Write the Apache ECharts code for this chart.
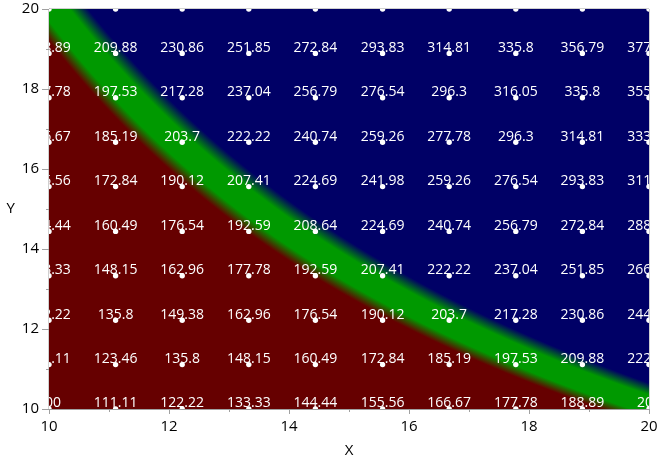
<!DOCTYPE html>
<html>
<head>
<meta charset="utf-8">
<script src="https://cdn.jsdelivr.net/npm/echarts@6/dist/echarts.min.js"></script>
<style>
html,body{margin:0;padding:0;background:#fff;}
#chart{width:666px;height:472px;}
</style>
</head>
<body>
<div id="chart"></div>
<script>
// Grid coordinates (X and Y) of the sampled points
const xValues = [10, 11.11, 12.22, 13.33, 14.44, 15.56, 16.67, 17.78, 18.89, 20];
const yValues = [10, 11.11, 12.22, 13.33, 14.44, 15.56, 16.67, 17.78, 18.89, 20];
// Z values, one row per Y value (bottom to top), columns follow xValues
const zRow0 = [100, 111.11, 122.22, 133.33, 144.44, 155.56, 166.67, 177.78, 188.89, 200];
const zRow1 = [111.11, 123.46, 135.8, 148.15, 160.49, 172.84, 185.19, 197.53, 209.88, 222.22];
const zRow2 = [122.22, 135.8, 149.38, 162.96, 176.54, 190.12, 203.7, 217.28, 230.86, 244.44];
const zRow3 = [133.33, 148.15, 162.96, 177.78, 192.59, 207.41, 222.22, 237.04, 251.85, 266.67];
const zRow4 = [144.44, 160.49, 176.54, 192.59, 208.64, 224.69, 240.74, 256.79, 272.84, 288.89];
const zRow5 = [155.56, 172.84, 190.12, 207.41, 224.69, 241.98, 259.26, 276.54, 293.83, 311.11];
const zRow6 = [166.67, 185.19, 203.7, 222.22, 240.74, 259.26, 277.78, 296.3, 314.81, 333.33];
const zRow7 = [177.78, 197.53, 217.28, 237.04, 256.79, 276.54, 296.3, 316.05, 335.8, 355.56];
const zRow8 = [188.89, 209.88, 230.86, 251.85, 272.84, 293.83, 314.81, 335.8, 356.79, 377.78];
const zRow9 = [200, 222.22, 244.44, 266.67, 288.89, 311.11, 333.33, 355.56, 377.78, 400];
const zRows = [zRow0, zRow1, zRow2, zRow3, zRow4, zRow5, zRow6, zRow7, zRow8, zRow9];
// axis ticks
const xTicks = [10, 12, 14, 16, 18, 20];
const yTicks = [10, 12, 14, 16, 18, 20];

// colour scale (value -> colour)
const scaleValues = [192, 197, 207, 213];
const scaleColors = [[102, 0, 0], [0, 153, 0], [0, 153, 0], [0, 0, 102]];

function colorAt(v) {
  const n = scaleValues.length;
  if (v <= scaleValues[0]) return scaleColors[0];
  if (v >= scaleValues[n - 1]) return scaleColors[n - 1];
  for (let i = 0; i < n - 1; i++) {
    if (v >= scaleValues[i] && v <= scaleValues[i + 1]) {
      const t = (v - scaleValues[i]) / (scaleValues[i + 1] - scaleValues[i]);
      const a = scaleColors[i], b = scaleColors[i + 1];
      return [a[0] + (b[0] - a[0]) * t, a[1] + (b[1] - a[1]) * t, a[2] + (b[2] - a[2]) * t];
    }
  }
  return scaleColors[n - 1];
}
function rgb(c) { return 'rgb(' + Math.round(c[0]) + ',' + Math.round(c[1]) + ',' + Math.round(c[2]) + ')'; }

// one item per band of cells between two neighbouring Y values
const bandData = [];
for (let j = 0; j < yValues.length - 1; j++) {
  bandData.push([xValues[0], yValues[j], xValues[xValues.length - 1], yValues[j + 1], j]);
}
const pointData = [];
for (let j = 0; j < yValues.length; j++) {
  for (let i = 0; i < xValues.length; i++) {
    pointData.push([xValues[i], yValues[j], zRows[j][i]]);
  }
}

const FONT = '"Open Sans", "Noto Sans", sans-serif';
const axisGray = '#a0a0a0';

const chart = echarts.init(document.getElementById('chart'), null, { renderer: 'canvas' });
chart.setOption({
  animation: false,
  backgroundColor: '#fff',
  grid: { left: 49, right: 17, top: 9, bottom: 63, show: true, borderColor: axisGray, borderWidth: 1, backgroundColor: 'transparent' },
  xAxis: {
    type: 'value', min: xTicks[0], max: xTicks[xTicks.length - 1], interval: xTicks[1] - xTicks[0],
    name: 'X', nameLocation: 'middle', nameGap: 34,
    nameTextStyle: { color: '#000', fontSize: 15, fontFamily: FONT },
    axisLine: { show: true, lineStyle: { color: axisGray } },
    axisTick: { show: true, length: 5, lineStyle: { color: axisGray } },
    minorTick: { show: true, splitNumber: 2, length: 3, lineStyle: { color: axisGray } },
    splitLine: { show: false },
    axisLabel: { color: '#000', fontSize: 15, fontFamily: FONT, margin: 10 }
  },
  yAxis: {
    type: 'value', min: yTicks[0], max: yTicks[yTicks.length - 1], interval: yTicks[1] - yTicks[0],
    name: 'Y', nameLocation: 'middle', nameGap: 34, nameRotate: 0,
    nameTextStyle: { color: '#000', fontSize: 15, fontFamily: FONT },
    axisLine: { show: true, lineStyle: { color: axisGray } },
    axisTick: { show: true, length: 7, lineStyle: { color: axisGray } },
    minorTick: { show: true, splitNumber: 2, length: 3, lineStyle: { color: axisGray } },
    splitLine: { show: false },
    axisLabel: { color: '#000', fontSize: 15, fontFamily: FONT, margin: 10 }
  },
  series: [
    {
      type: 'custom',
      clip: true,
      silent: true,
      z: 1,
      data: bandData,
      encode: { x: [0, 2], y: [1, 3] },
      renderItem: function (params, api) {
        const j = api.value(4);
        const lowRow = zRows[j], highRow = zRows[j + 1];
        const yLo = yValues[j], yHi = yValues[j + 1];
        const bottom = api.coord([xValues[0], yLo])[1];
        const top = api.coord([xValues[0], yHi])[1];
        const px = xValues.map(function (x) { return api.coord([x, yLo])[0]; });
        const x0 = px[0], x1 = px[px.length - 1], W = x1 - x0;
        const H = bottom - top;
        const children = [];
        const pyStart = Math.round(top), pyEnd = Math.round(bottom);
        for (let py = pyStart; py < pyEnd; py++) {
          let s = (bottom - (py + 0.5)) / H;
          s = Math.max(0, Math.min(1, s));
          const vals = lowRow.map(function (z, i) { return z + (highRow[i] - z) * s; });
          const stops = [];
          for (let i = 0; i < vals.length; i++) {
            stops.push({ offset: (px[i] - x0) / W, color: rgb(colorAt(vals[i])) });
            if (i < vals.length - 1) {
              const a = vals[i], b = vals[i + 1];
              const lo = Math.min(a, b), hi = Math.max(a, b);
              const inner = [];
              scaleValues.forEach(function (c) {
                if (c > lo && c < hi) {
                  const t = (c - a) / (b - a);
                  inner.push({ offset: (px[i] + (px[i + 1] - px[i]) * t - x0) / W, color: rgb(colorAt(c)) });
                }
              });
              inner.sort(function (p, q) { return p.offset - q.offset; });
              stops.push.apply(stops, inner);
            }
          }
          children.push({
            type: 'rect',
            shape: { x: x0, y: py, width: W, height: 1 },
            style: { fill: { type: 'linear', x: 0, y: 0, x2: 1, y2: 0, colorStops: stops } }
          });
        }
        return { type: 'group', children: children };
      }
    },
    {
      type: 'custom',
      clip: true,
      silent: true,
      z: 3,
      data: pointData,
      encode: { x: 0, y: 1 },
      renderItem: function (params, api) {
        const p = api.coord([api.value(0), api.value(1)]);
        const z = api.value(2);
        return {
          type: 'group',
          children: [
            { type: 'circle', shape: { cx: p[0], cy: p[1], r: 2.7 }, style: { fill: '#ffffff' } },
            {
              type: 'text',
              x: p[0], y: p[1] - 5.5,
              style: {
                text: String(z), fill: '#ffffff', fontSize: 14, fontFamily: FONT,
                align: 'center', verticalAlign: 'middle'
              }
            }
          ]
        };
      }
    }
  ]
});
</script>
</body>
</html>
